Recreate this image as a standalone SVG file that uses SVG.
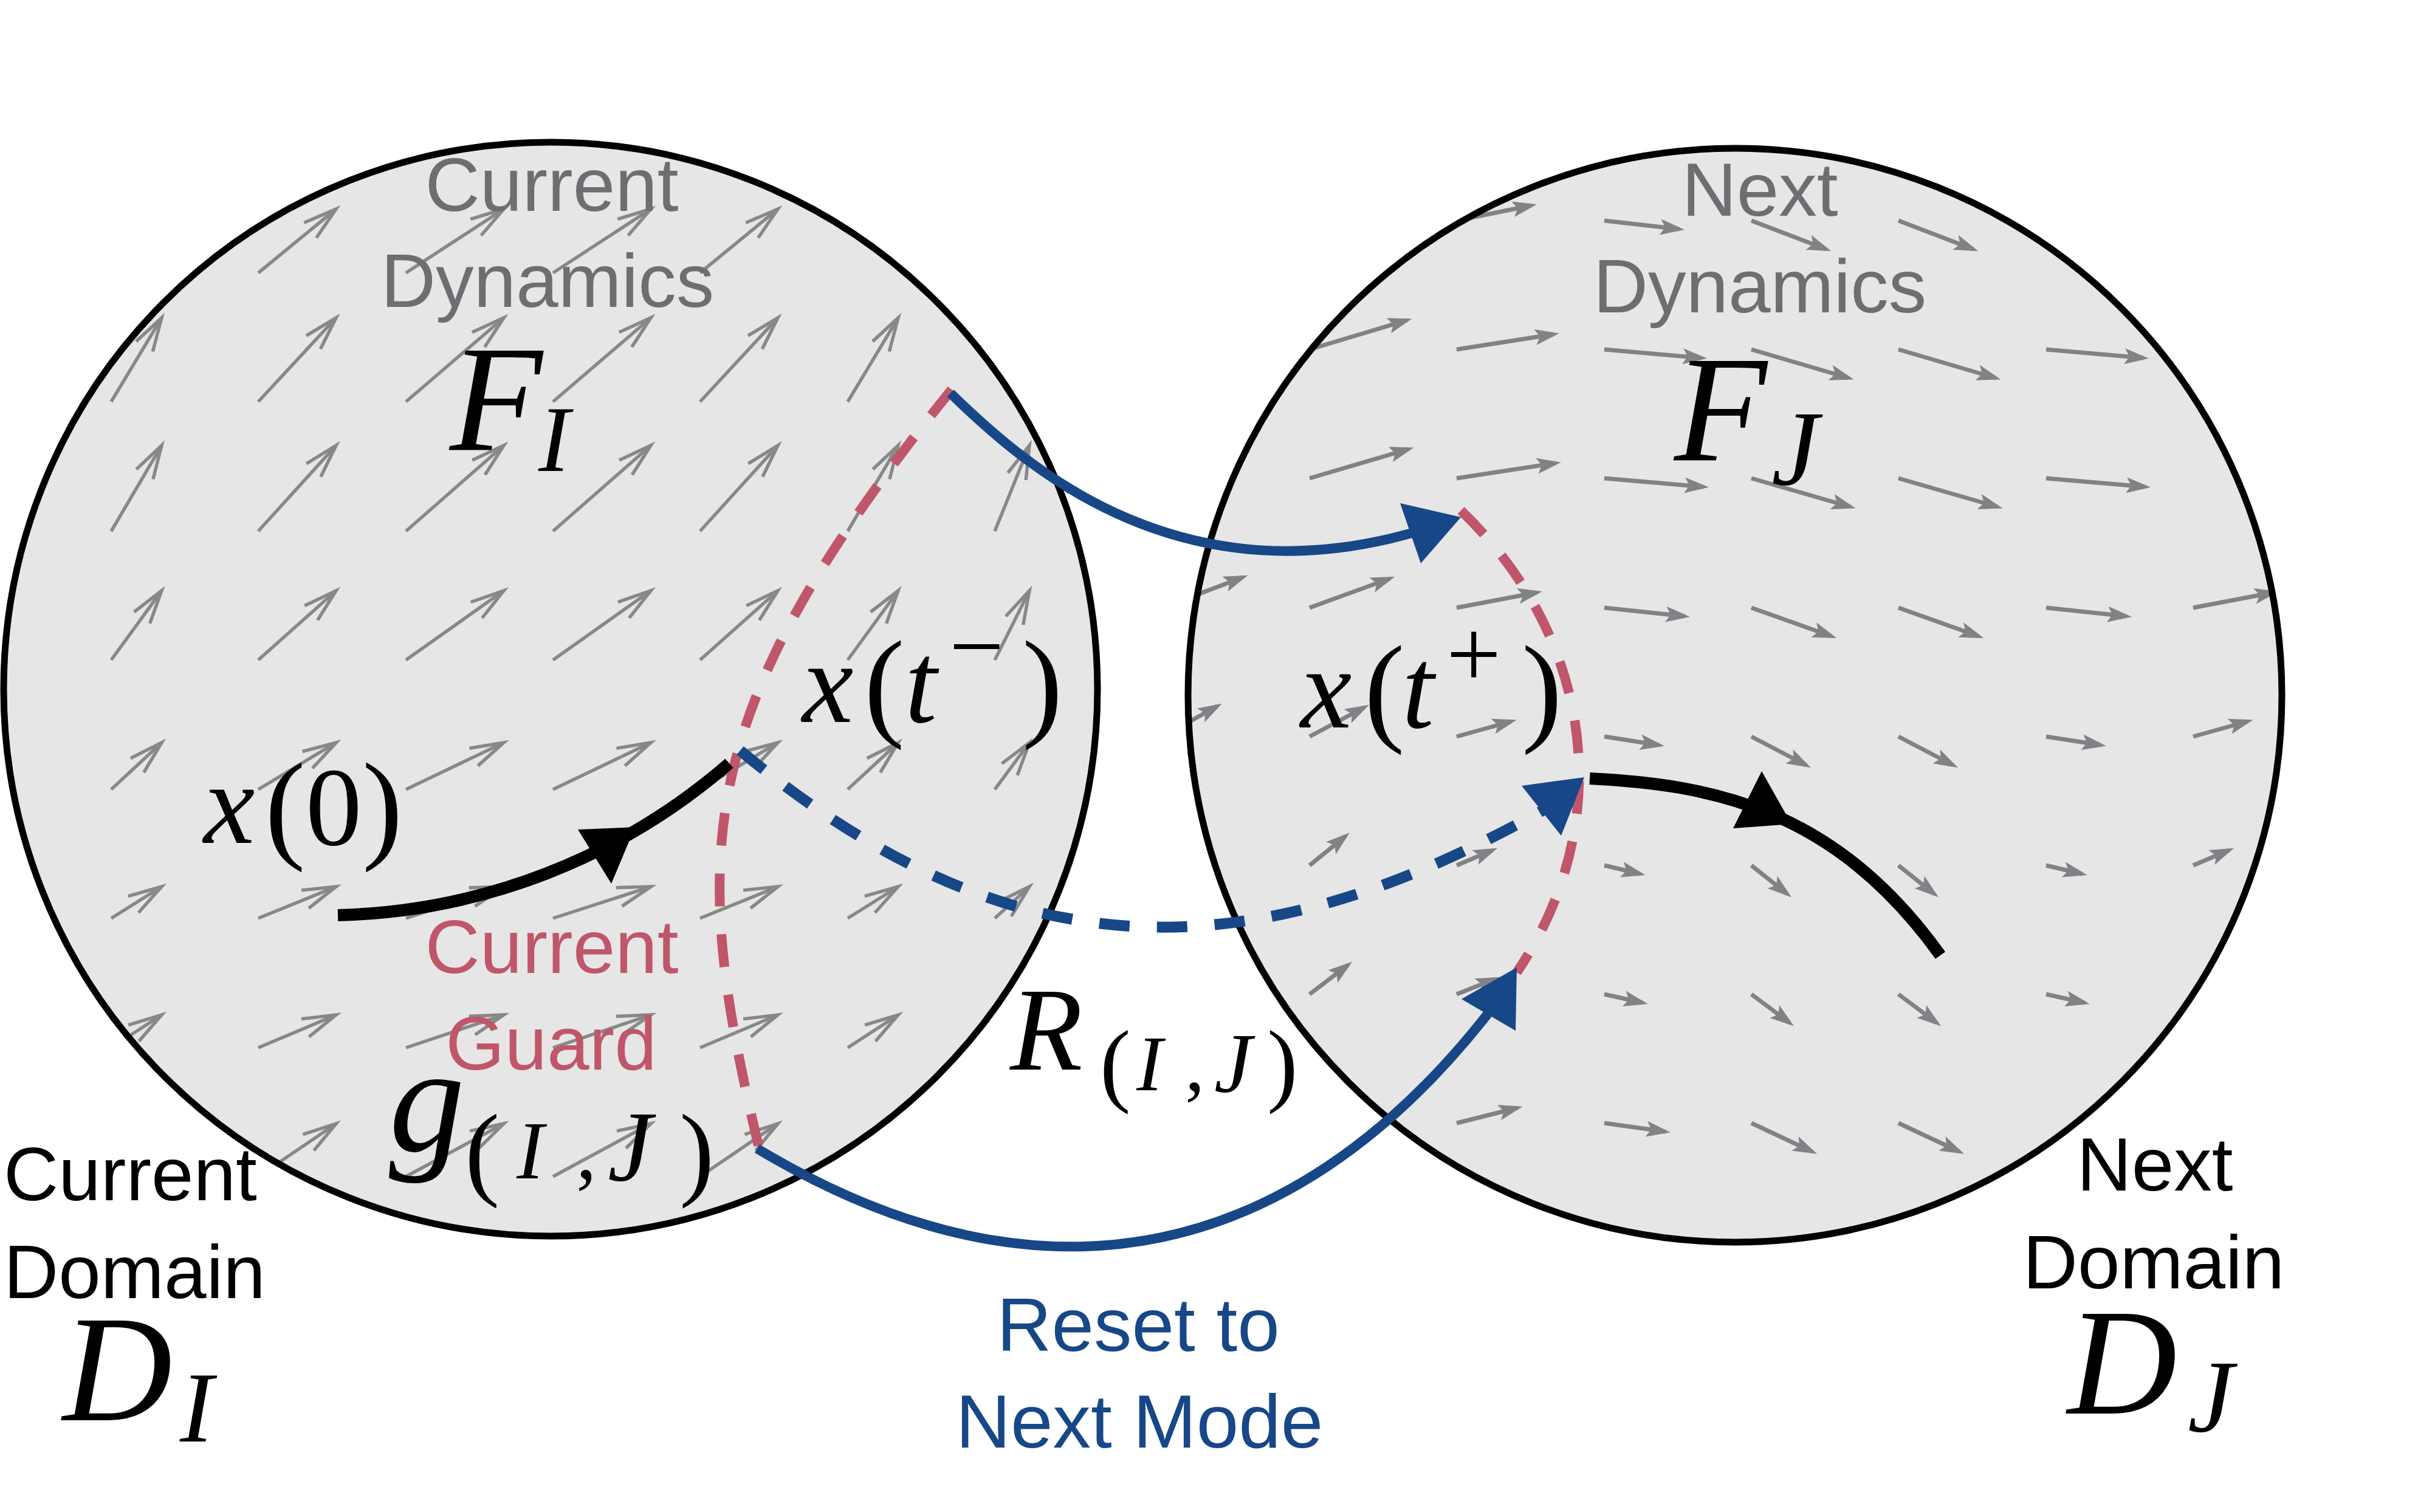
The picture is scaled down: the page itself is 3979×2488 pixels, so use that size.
<svg xmlns="http://www.w3.org/2000/svg" width="3979" height="2488" viewBox="0 0 3979 2488">
<defs>
<style>
.fa{stroke:#87888a;stroke-width:5.5;fill:none;marker-end:url(#ha)}
.fb{stroke:#808285;stroke-width:7;fill:none;marker-end:url(#hb)}
.lbl{font-family:"Liberation Sans",Arial,sans-serif;font-size:125px;text-anchor:middle}
.gray{fill:#6d6e71}
.red{fill:#c0566a}
.blue{fill:#174787}
.blk{fill:#000}
.m{font-family:"Liberation Serif","Times New Roman",serif;font-style:italic;fill:#000}
.u{font-style:normal}
.guard{fill:none;stroke:#c0566a;stroke-width:16;stroke-dasharray:54 46}
.reset{fill:none;stroke:#174787;stroke-width:16}
.rdash{fill:none;stroke:#174787;stroke-width:18;stroke-dasharray:50 45}
.traj{fill:none;stroke:#000;stroke-width:20}
.edge{fill:none;stroke:#000;stroke-width:11}
</style>
<clipPath id="cI"><circle cx="906" cy="1134" r="900"/></clipPath>
<clipPath id="cJ"><circle cx="2855" cy="1144" r="900"/></clipPath>
<marker id="ha" markerUnits="userSpaceOnUse" markerWidth="80" markerHeight="50" viewBox="-65 -25 80 50" refX="0" refY="0" orient="auto"><path d="M-55,-16 L0,0 L-55,16" fill="none" stroke="#87888a" stroke-width="5.5"/></marker>
<marker id="hb" markerUnits="userSpaceOnUse" markerWidth="56" markerHeight="34" viewBox="-46 -17 56 34" refX="-9" refY="0" orient="auto"><path d="M-40,-13 L0,0 L-40,13 L-32,0 Z" fill="#808285"/></marker>
</defs>

<g id="domain-I">
<circle cx="906" cy="1134" r="900" fill="#e6e6e6"/>
<g clip-path="url(#cI)">
<path class="fa" d="M425 449L553 344"/><path class="fa" d="M668 449L829 344"/><path class="fa" d="M910 449L1071 344"/><path class="fa" d="M1152 449L1280 344"/>
<path class="fa" d="M183 661L266 523"/><path class="fa" d="M425 661L553 523"/><path class="fa" d="M668 661L829 523"/><path class="fa" d="M910 661L1071 523"/><path class="fa" d="M1152 661L1280 523"/><path class="fa" d="M1395 661L1478 523"/>
<path class="fa" d="M183 874L266 733"/><path class="fa" d="M425 874L553 733"/><path class="fa" d="M668 874L829 733"/><path class="fa" d="M910 874L1071 733"/><path class="fa" d="M1152 874L1280 733"/><path class="fa" d="M1395 874L1478 733"/><path class="fa" d="M1637 874L1694 733"/>
<path class="fa" d="M183 1086L266 972"/><path class="fa" d="M425 1086L553 972"/><path class="fa" d="M668 1086L829 972"/><path class="fa" d="M910 1086L1071 972"/><path class="fa" d="M1152 1086L1280 972"/><path class="fa" d="M1395 1086L1478 972"/><path class="fa" d="M1637 1086L1694 972"/>
<path class="fa" d="M183 1299L266 1222"/><path class="fa" d="M425 1299L553 1222"/><path class="fa" d="M668 1299L829 1222"/><path class="fa" d="M910 1299L1071 1222"/><path class="fa" d="M1152 1299L1280 1222"/><path class="fa" d="M1395 1299L1478 1222"/><path class="fa" d="M1637 1299L1694 1222"/>
<path class="fa" d="M183 1511L266 1459"/><path class="fa" d="M425 1511L553 1459"/><path class="fa" d="M668 1511L829 1459"/><path class="fa" d="M910 1511L1071 1459"/><path class="fa" d="M1152 1511L1280 1459"/><path class="fa" d="M1395 1511L1478 1459"/><path class="fa" d="M1637 1511L1694 1459"/>
<path class="fa" d="M183 1724L266 1670"/><path class="fa" d="M425 1724L553 1670"/><path class="fa" d="M668 1724L829 1670"/><path class="fa" d="M910 1724L1071 1670"/><path class="fa" d="M1152 1724L1280 1670"/><path class="fa" d="M1395 1724L1478 1670"/>
<path class="fa" d="M425 1936L553 1849"/><path class="fa" d="M668 1936L829 1849"/><path class="fa" d="M910 1936L1071 1849"/><path class="fa" d="M1152 1936L1280 1849"/>
</g>
<circle class="edge" cx="906" cy="1134" r="900"/>
<text class="lbl gray"><tspan x="908" y="347">Current</tspan><tspan x="901" y="505">Dynamics</tspan></text>
<text class="m"><tspan x="740" y="741" font-size="250">F</tspan><tspan x="886" y="775" font-size="155">I</tspan></text>
</g>

<g id="domain-J">
<circle cx="2855" cy="1144" r="900" fill="#e6e6e6"/>
<g clip-path="url(#cJ)">
<path class="fb" d="M2397 363L2520 338"/><path class="fb" d="M2640 363L2763 377"/><path class="fb" d="M2882 363L3005 410"/><path class="fb" d="M3124 363L3247 410"/>
<path class="fb" d="M2155 575L2315 527"/><path class="fb" d="M2397 575L2557 550"/><path class="fb" d="M2640 575L2800 589"/><path class="fb" d="M2882 575L3042 622"/><path class="fb" d="M3124 575L3284 622"/><path class="fb" d="M3367 575L3527 589"/>
<path class="fb" d="M2155 787L2318 739"/><path class="fb" d="M2397 787L2560 762"/><path class="fb" d="M2640 787L2803 801"/><path class="fb" d="M2882 787L3045 834"/><path class="fb" d="M3124 787L3287 834"/><path class="fb" d="M3367 787L3530 801"/>
<path class="fb" d="M1913 1000L2045 950"/><path class="fb" d="M2155 1000L2287 952"/><path class="fb" d="M2397 1000L2529 975"/><path class="fb" d="M2640 1000L2772 1014"/><path class="fb" d="M2882 1000L3014 1047"/><path class="fb" d="M3124 1000L3256 1047"/><path class="fb" d="M3367 1000L3499 1014"/><path class="fb" d="M3609 1000L3741 975"/>
<path class="fb" d="M1913 1212L2003 1162"/><path class="fb" d="M2155 1212L2245 1164"/><path class="fb" d="M2397 1212L2487 1187"/><path class="fb" d="M2640 1212L2730 1226"/><path class="fb" d="M2882 1212L2972 1259"/><path class="fb" d="M3124 1212L3214 1259"/><path class="fb" d="M3367 1212L3457 1226"/><path class="fb" d="M3609 1212L3699 1187"/>
<path class="fb" d="M2155 1424L2214 1376"/><path class="fb" d="M2397 1424L2456 1399"/><path class="fb" d="M2640 1424L2699 1438"/><path class="fb" d="M2882 1424L2941 1471"/><path class="fb" d="M3124 1424L3183 1471"/><path class="fb" d="M3367 1424L3426 1438"/><path class="fb" d="M3609 1424L3668 1399"/>
<path class="fb" d="M2155 1636L2218 1588"/><path class="fb" d="M2397 1636L2460 1611"/><path class="fb" d="M2640 1636L2703 1650"/><path class="fb" d="M2882 1636L2945 1683"/><path class="fb" d="M3124 1636L3187 1683"/><path class="fb" d="M3367 1636L3430 1650"/>
<path class="fb" d="M2397 1848L2497 1823"/><path class="fb" d="M2640 1848L2740 1862"/><path class="fb" d="M2882 1848L2982 1895"/><path class="fb" d="M3124 1848L3224 1895"/>
</g>
<circle class="edge" cx="2855" cy="1144" r="900"/>
<text class="lbl gray"><tspan x="2896" y="355">Next</tspan><tspan x="2896" y="514">Dynamics</tspan></text>
<text class="m"><tspan x="2755" y="758" font-size="250">F</tspan><tspan x="2915" y="797" font-size="175">J</tspan></text>
</g>

<g id="connectors">
<path class="guard" d="M1566,641 C1138,1171 1133,1400 1248,1885"/>
<path class="guard" d="M2404,840 C2620,1047 2664,1351 2496,1600"/>
<path class="traj" d="M556,1506 A1020,1020 0 0 0 1200,1256"/>
<polygon points="1045,1361 951,1365 1006,1454" fill="#000"/>
<path class="rdash" d="M1218,1235 C1665,1606 2058,1604 2545,1330"/>
<polygon class="blue" points="2607,1279 2504,1293 2569,1375"/>
<path class="reset" d="M1564,647 C1690,770 1950,1000 2360,866"/>
<polygon class="blue" points="2404,851 2304,828 2338,927"/>
<path class="reset" d="M1246,1890 C1717,2173 2140,2080 2470,1640"/>
<polygon class="blue" points="2496,1592 2405,1644 2494,1696"/>
<path class="traj" d="M2616,1281 C2816,1291 3019,1329 3193,1572"/>
<polygon points="2948,1356 2899,1269 2852,1363" fill="#000"/>
</g>

<g id="label-x0">
<text class="m"><tspan x="335" y="1387" font-size="190">x</tspan><tspan class="u" x="436" y="1393" font-size="200">(</tspan><tspan class="u" x="503" y="1390" font-size="185">0</tspan><tspan class="u" x="596" y="1393" font-size="200">)</tspan></text>
</g>
<g id="label-xtminus">
<text class="m"><tspan x="1320" y="1188" font-size="190">x</tspan><tspan class="u" x="1422" y="1192" font-size="200">(</tspan><tspan x="1489" y="1188" font-size="190">t</tspan><tspan class="u" x="1562" y="1117" font-size="160">−</tspan><tspan class="u" x="1682" y="1192" font-size="200">)</tspan></text>
</g>
<g id="label-xtplus">
<text class="m"><tspan x="2140" y="1197" font-size="190">x</tspan><tspan class="u" x="2245" y="1200" font-size="200">(</tspan><tspan x="2307" y="1197" font-size="190">t</tspan><tspan class="u" x="2380" y="1131" font-size="160">+</tspan><tspan class="u" x="2504" y="1200" font-size="200">)</tspan></text>
</g>
<g id="label-guard">
<text class="lbl red"><tspan x="908" y="1601">Current</tspan><tspan x="907" y="1760">Guard</tspan></text>
<text class="m"><tspan x="640" y="1894" font-size="250">g</tspan><tspan class="u" x="765" y="1952" font-size="172">(</tspan><tspan x="850" y="1939" font-size="135">I</tspan><tspan class="u" x="948" y="1939" font-size="135">,</tspan><tspan x="1000" y="1942" font-size="165">J</tspan><tspan class="u" x="1118" y="1952" font-size="172">)</tspan></text>
</g>
<g id="label-reset">
<text class="m"><tspan x="1662" y="1760" font-size="196">R</tspan><tspan class="u" x="1810" y="1801" font-size="152">(</tspan><tspan x="1870" y="1794" font-size="130">I</tspan><tspan class="u" x="1950" y="1794" font-size="130">,</tspan><tspan x="1998" y="1797" font-size="140">J</tspan><tspan class="u" x="2085" y="1801" font-size="152">)</tspan></text>
<text class="lbl blue"><tspan x="1873" y="2223">Reset to</tspan><tspan x="1875" y="2382">Next Mode</tspan></text>
</g>
<g id="label-domain-I">
<text class="lbl blk" style="text-anchor:start"><tspan x="6" y="1975">Current</tspan><tspan x="6" y="2136">Domain</tspan></text>
<text class="m"><tspan x="103" y="2337" font-size="250">D</tspan><tspan x="296" y="2372" font-size="165">I</tspan></text>
</g>
<g id="label-domain-J">
<text class="lbl blk"><tspan x="3546" y="1959">Next</tspan><tspan x="3544" y="2120">Domain</tspan></text>
<text class="m"><tspan x="3402" y="2326" font-size="250">D</tspan><tspan x="3600" y="2355" font-size="170">J</tspan></text>
</g>
</svg>
